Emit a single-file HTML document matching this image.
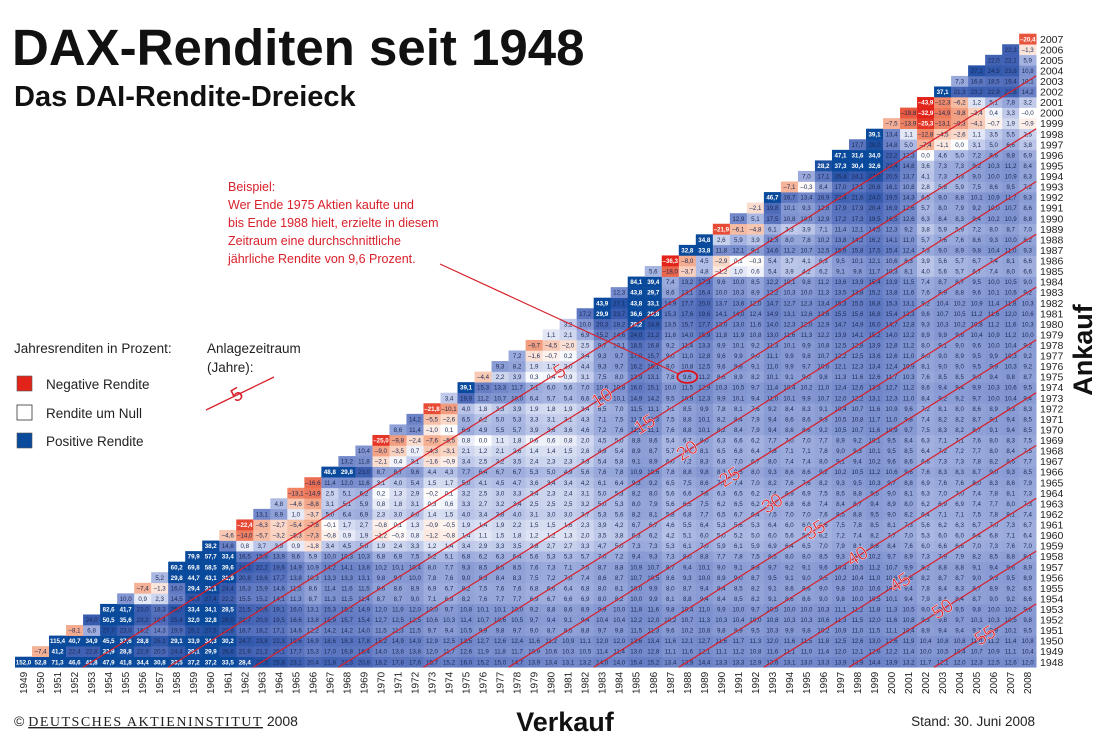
<!DOCTYPE html>
<html><head><meta charset="utf-8">
<style>
html,body{margin:0;padding:0;background:#fff;}
svg{display:block;font-family:"Liberation Sans",sans-serif;}
</style></head>
<body>
<svg id="chart" width="1103" height="749" viewBox="0 0 1103 749" xmlns="http://www.w3.org/2000/svg">
  <text x="12" y="65" font-size="51" font-weight="bold" fill="#111">DAX-Renditen seit 1948</text>
  <text x="14" y="106" font-size="29" font-weight="bold" fill="#111">Das DAI-Rendite-Dreieck</text>

  <g>
    <text x="14" y="353" font-size="13.5" fill="#222">Jahresrenditen in Prozent:</text>
    <rect x="17" y="376" width="15" height="15" fill="#e2231a" stroke="#555" stroke-width="0.6"/>
    <text x="46" y="389" font-size="13.5" fill="#222">Negative Rendite</text>
    <rect x="17" y="405" width="15" height="15" fill="#fff" stroke="#333" stroke-width="0.8"/>
    <text x="46" y="418" font-size="13.5" fill="#222">Rendite um Null</text>
    <rect x="17" y="433" width="15" height="15" fill="#0a4a9c" stroke="#555" stroke-width="0.6"/>
    <text x="46" y="446" font-size="13.5" fill="#222">Positive Rendite</text>
    <text x="207" y="353" font-size="13.5" fill="#222">Anlagezeitraum</text>
    <text x="207" y="372" font-size="13.5" fill="#222">(Jahre):</text>
    <line x1="206" y1="410" x2="274" y2="377" stroke="#d8202a" stroke-width="1.3"/>
    <text x="240" y="400" font-size="19" fill="#d8202a" transform="rotate(-30 240 400)" text-anchor="middle">5</text>
  </g>

  <g id="cells"></g>
  <g id="rowlabels"></g>
  <g id="collabels"></g>
  <g id="diaglines"></g>

  <g font-size="12.5" fill="#d8202a">
    <text x="228" y="191">Beispiel:</text>
    <text x="228" y="209">Wer Ende 1975 Aktien kaufte und</text>
    <text x="228" y="227">bis Ende 1988 hielt, erzielte in diesem</text>
    <text x="228" y="245">Zeitraum eine durchschnittliche</text>
    <text x="228" y="263">jährliche Rendite von 9,6 Prozent.</text>
  </g>
  <line id="annLine" x1="440" y1="264" stroke="#d8202a" stroke-width="1.2"/>
  <ellipse id="annCircle" rx="10" ry="6" fill="none" stroke="#e0101a" stroke-width="1.8"/>

  <text x="1092" y="350" font-size="27" font-weight="bold" fill="#111" text-anchor="middle" transform="rotate(-90 1092 350)">Ankauf</text>
  <text x="565" y="731" font-size="27" font-weight="bold" fill="#111" text-anchor="middle">Verkauf</text>
  <text x="14" y="726" font-size="14" fill="#222">© <tspan font-family="Liberation Serif, serif" text-decoration="underline" letter-spacing="1.5">DEUTSCHES AKTIENINSTITUT</tspan>  2008</text>
  <text x="1035" y="726" font-size="13.5" fill="#222" text-anchor="end">Stand: 30. Juni 2008</text>
</svg>
<script>
// years whose annual return is given (sell year columns); buy-year rows are 1948..2007
const returnYears = [1949,1950,1951,1952,1953,1954,1955,1956,1957,1958,1959,1960,1961,1962,1963,1964,1965,1966,1967,1968,1969,1970,1971,1972,1973,1974,1975,1976,1977,1978,1979,1980,1981,1982,1983,1984,1985,1986,1987,1988,1989,1990,1991,1992,1993,1994,1995,1996,1997,1998,1999,2000,2001,2002,2003,2004,2005,2006,2007,2008];
const annualReturns = [152.0,-7.4,115.4,-8.1,24.0,82.6,10.0,-7.4,5.2,60.2,79.9,38.2,-4.6,-22.4,13.1,4.8,-13.1,-16.6,48.8,13.2,10.4,-25.0,8.6,14.2,-21.8,3.4,39.1,-4.4,9.3,7.2,-9.7,1.1,3.2,17.2,43.9,12.3,84.1,5.6,-36.3,32.8,34.8,-21.9,12.9,-2.1,46.7,-7.1,7.0,28.2,47.1,17.7,39.1,-7.5,-19.8,-43.9,37.1,7.3,27.1,22.0,22.3,-20.4];
const holdingPeriods = [5,10,15,20,25,30,35,40,45,50,55];
const highlightBuy = 1975, highlightSell = 1988;

const NS = "http://www.w3.org/2000/svg";
const X0 = 15, CW = 17.02, Y1948 = 662, RH = 10.56;
const firstCol = returnYears[0];
function xCol(c){ return X0 + (c - firstCol) * CW; }
function yRow(r){ return Y1948 - (r - 1948) * RH; }

function lerp(a,b,t){ return a + (b-a)*t; }
const posStops = [[0,[255,255,255]],[1.5,[215,221,241]],[5,[172,185,227]],[10,[132,151,210]],[16,[98,122,195]],[22,[66,98,180]],[27,[38,82,166]],[30,[10,74,156]]];
const negStops = [[0,[255,255,255]],[-1.5,[251,226,214]],[-6,[246,188,162]],[-12,[240,140,108]],[-20,[233,88,62]],[-28,[226,35,26]]];
function colorFor(v){
  const stops = v >= 0 ? posStops : negStops;
  const a = Math.abs(v);
  let c = stops[stops.length-1][1];
  for (let i=0;i<stops.length-1;i++){
    const s0=Math.abs(stops[i][0]), s1=Math.abs(stops[i+1][0]);
    if (a>=s0 && a<=s1){ const t=(a-s0)/(s1-s0); c=[0,1,2].map(k=>Math.round(lerp(stops[i][1][k],stops[i+1][1][k],t))); break; }
  }
  return `rgb(${c[0]},${c[1]},${c[2]})`;
}
function meanReturn(buy, sell){
  let p = 1;
  for (let y = buy+1; y <= sell; y++) p *= 1 + annualReturns[returnYears.indexOf(y)]/100;
  return (Math.pow(p, 1/(sell-buy)) - 1) * 100;
}

const cells = document.getElementById('cells');
for (let buy = 1948; buy <= 2007; buy++){
  for (let sell = buy+1; sell <= returnYears[returnYears.length-1]; sell++){
    const v = meanReturn(buy, sell);
    const x = xCol(sell), y = yRow(buy) - RH/2;
    const r = document.createElementNS(NS,'rect');
    r.setAttribute('x', x.toFixed(2)); r.setAttribute('y', y.toFixed(2));
    r.setAttribute('width', (CW+0.3).toFixed(2)); r.setAttribute('height', (RH+0.3).toFixed(2));
    r.setAttribute('fill', colorFor(v));
    
    
    cells.appendChild(r);
    const t = document.createElementNS(NS,'text');
    t.setAttribute('x', (x + CW/2).toFixed(2)); t.setAttribute('y', (yRow(buy)+2.3).toFixed(2));
    t.setAttribute('font-size','6.2'); t.setAttribute('text-anchor','middle');
    const strong = v >= 28 || v <= -20;
    t.setAttribute('fill', strong ? '#fff' : '#1b2a55');
    if (strong) t.setAttribute('font-weight','bold');
    t.textContent = v.toFixed(1).replace('.', ',').replace('-', '–');
    
    
    cells.appendChild(t);
  }
}

const rl = document.getElementById('rowlabels');
for (let buy = 1948; buy <= 2007; buy++){
  const t = document.createElementNS(NS,'text');
  t.setAttribute('x','1040'); t.setAttribute('y',(yRow(buy)+3.8).toFixed(2));
  t.setAttribute('font-size','10.5'); t.setAttribute('fill','#222');
  t.textContent = buy;
  
  
  rl.appendChild(t);
}
const cl = document.getElementById('collabels');
returnYears.forEach(sell => {
  const cx = xCol(sell) + CW/2 + 3.5, cy = 694;
  const t = document.createElementNS(NS,'text');
  t.setAttribute('x', cx.toFixed(2)); t.setAttribute('y', cy);
  t.setAttribute('font-size','10'); t.setAttribute('fill','#222');
  t.setAttribute('transform', `rotate(-90 ${cx.toFixed(2)} ${cy})`);
  t.textContent = sell;
  
  
  cl.appendChild(t);
});

const dl = document.getElementById('diaglines');
const lastSell = returnYears[returnYears.length-1];
holdingPeriods.forEach((n, i) => {
  const rStart = 1947.5, rEnd = lastSell - n + 0.5;
  const x1 = xCol(rStart + n) + CW/2, y1 = yRow(rStart);
  const x2 = xCol(rEnd + n) + CW/2, y2 = yRow(rEnd);
  const l = document.createElementNS(NS,'line');
  l.setAttribute('x1',x1.toFixed(2)); l.setAttribute('y1',y1.toFixed(2));
  l.setAttribute('x2',x2.toFixed(2)); l.setAttribute('y2',y2.toFixed(2));
  l.setAttribute('stroke','#d8202a'); l.setAttribute('stroke-width','1.2');
  
  
  dl.appendChild(l);
  const rLab = 1975.5 - i*2.5;
  const lx = xCol(rLab + n) + CW/2, ly = yRow(rLab);
  const t = document.createElementNS(NS,'text');
  t.setAttribute('x', lx.toFixed(2)); t.setAttribute('y', (ly+6).toFixed(2));
  t.setAttribute('font-size','19'); t.setAttribute('fill','#d8202a');
  t.setAttribute('text-anchor','middle');
  t.setAttribute('transform', `rotate(-32 ${lx.toFixed(2)} ${ly.toFixed(2)})`);
  t.setAttribute('stroke','#fff'); t.setAttribute('stroke-width','0.4');
  t.textContent = n;
  
  
  dl.appendChild(t);
});

const hx = xCol(highlightSell) + CW/2, hy = yRow(highlightBuy);
const circ = document.getElementById('annCircle');
circ.setAttribute('cx', hx.toFixed(2)); circ.setAttribute('cy', hy.toFixed(2));
const al = document.getElementById('annLine');
al.setAttribute('x2', (hx-9).toFixed(2)); al.setAttribute('y2', (hy-3).toFixed(2));
</script>
</body></html>
